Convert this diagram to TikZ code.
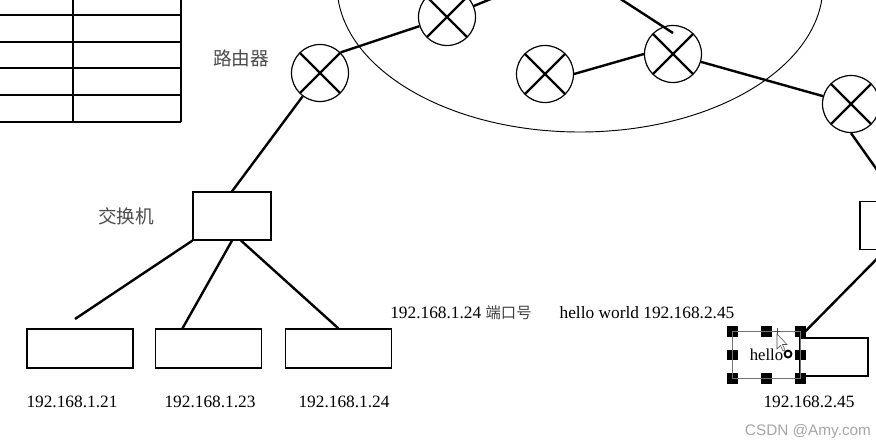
\documentclass[tikz,border=0pt]{standalone}
\usepackage{fontspec}
\setmainfont{Liberation Serif}
\newfontfamily\cjk{Noto Sans CJK SC}
\newfontfamily\wmfont{Liberation Sans}
\usetikzlibrary{positioning,calc,arrows.meta}

\begin{document}
\begin{tikzpicture}[x=0.75pt, y=-0.75pt,
    router/.style={circle, draw, fill=white, line width=0.9pt, minimum size=42.75pt, inner sep=0pt,
        path picture={\draw[line width=1.8pt] (path picture bounding box.north west) -- (path picture bounding box.south east)
            (path picture bounding box.north east) -- (path picture bounding box.south west);}},
    switchbox/.style={rectangle, draw, line width=0.9pt, minimum width=58.5pt, minimum height=36pt, inner sep=0pt},
    host/.style={rectangle, draw, line width=0.9pt, minimum width=79.5pt, minimum height=29.25pt, inner sep=0pt},
    link/.style={line width=1.8pt},
    iplabel/.style={font=\fontsize{13}{15}\selectfont, inner sep=0pt},
    cjklabel/.style={font=\cjk\fontsize{14}{16}\selectfont, text=black!70, inner sep=0pt},
    handle/.style={rectangle, fill=black, minimum size=8pt, inner sep=0pt}]

    \useasboundingbox (0,0) rectangle (876,447);

    % table in the corner
    \foreach \y in {15,42,68,95,122}
        \draw[line width=0.9pt] (-2,\y) -- (181,\y);
    \draw[line width=0.9pt] (73,-2) -- (73,122) (181,-2) -- (181,122);

    % network cloud
    \draw[line width=0.7pt] (580,-15) ellipse [x radius=182.25pt, y radius=110.25pt];

    % routers
    \node[router] (r1) at (320,73) {};
    \node[router] (r2) at (447,17) {};
    \node[router] (r3) at (545,74) {};
    \node[router] (r4) at (673,54) {};
    \node[router] (r5) at (851,104) {};
    \node[cjklabel] (lr) at (241,58) {路由器};

    \coordinate (t2) at (520,-13);
    \coordinate (t4) at (599,-15);
    \draw[link] (r1.north east) -- (r2);
    \draw[link] (r2) -- (t2);
    \draw[link] (r3.east) -- (r4.west);
    \draw[link] (r4) -- (r5);
    \draw[link] (t4) -- ($(r4)+(0,-21)$);

    % left switch and hosts
    \node[switchbox] (sw) at (232,216) {};
    \node[cjklabel, left=28.5pt of sw] (lsw) {交换机};
    \node[host] (h1) at (80,348.5) {};
    \node[host, right=15.75pt of h1] (h2) {};
    \node[host, right=17.25pt of h2] (h3) {};
    \node[iplabel] (ip1) at (72,402) {192.168.1.21};
    \node[iplabel] (ip2) at (210,402) {192.168.1.23};
    \node[iplabel] (ip3) at (344,402) {192.168.1.24};

    \coordinate (e1) at (75,319);
    \draw[link] (sw.north) -- (r1);
    \draw[link] (sw.south west) -- (e1);
    \draw[link] (sw.south) -- ($(h2.north west)!0.26!(h2.north east)$);
    \draw[link] ($(sw.south)+(9,0)$) -- (h3.north);

    \node[iplabel, anchor=west] (msg) at (390,313) {192.168.1.24 {\cjk\fontsize{11.5}{13}\selectfont\color{black!75}端口号}\hspace{21pt}hello world 192.168.2.45};

    % right side
    \node[switchbox] (sw2) at (899,225.5) {};
    \node[rectangle, draw, line width=0.9pt, minimum width=51pt, minimum height=28.5pt, inner sep=0pt] (hr) at (834,357) {};
    \draw[link] (r5.south) -- (sw2.north);
    \draw[link, -{Latex[length=5pt,width=4pt]}] ($(sw2.south west)!0.33!(sw2.south east)$) -- (hr.north west);
    \node[iplabel] (ip4) at (809,402) {192.168.2.45};

    % selected text box
    \node[minimum width=50.25pt, minimum height=34.5pt, inner sep=0pt, font=\fontsize{12.5}{14}\selectfont] (sel) at (766.5,355) {hello};
    \foreach \a in {north west,north,north east,west,east,south west,south,south east}
        \node[handle] at (sel.\a) {};
    \draw[black!55, line width=0.8pt] (sel.north west) rectangle (sel.south east);
    \draw[line width=1.4pt, fill=white] (788,354) circle [radius=2.6pt];
    \draw[black!70, line width=0.4pt, fill=white] (777,334) -- ++(0,15) -- ++(3.5,-3.5) -- ++(2.5,5.5) -- ++(2,-1) -- ++(-2.5,-5.5) -- ++(4.5,0) -- cycle;
    \draw[black!70, line width=0.4pt] (774,331) -- (780,331) (777,328) -- (777,334);

    \node[font=\wmfont\fontsize{11.5}{13}\selectfont, text=black!35, inner sep=0pt] (wm) at (808,432) {CSDN @Amy.com};
\end{tikzpicture}
\end{document}
